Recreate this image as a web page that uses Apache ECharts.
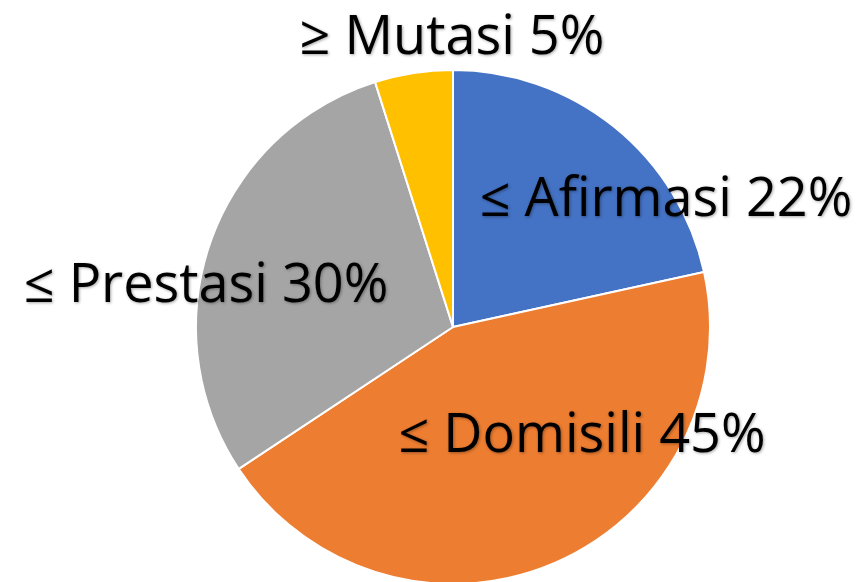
<!DOCTYPE html>
<html>
<head>
<meta charset="utf-8">
<script src="https://cdn.jsdelivr.net/npm/echarts@6/dist/echarts.min.js"></script>
<style>
  html, body { margin: 0; padding: 0; background: #fff; }
  #chart { width: 868px; height: 582px; }
</style>
</head>
<body>
<div id="chart"></div>
<script>
var names = ["Afirmasi", "Domisili", "Prestasi", "Mutasi"];
var signs = ["≤", "≤", "≤", "≥"];
var values = [22, 45, 30, 5];
var colors = ["#4472C4", "#ED7D31", "#A5A5A5", "#FFC000"];
// where each label sits (text centre)
var labelPos = [[666, 201], [582, 437], [206, 287], [452, 39]];

var chartDom = document.getElementById("chart");
var myChart = echarts.init(chartDom);
var option;

option = {
  animation: false,
  series: [
    {
      type: "pie",
      center: [453, 327],
      radius: 257,
      startAngle: 90,
      clockwise: true,
      itemStyle: {
        borderColor: "#fff",
        borderWidth: 2,
      },
      labelLine: { show: false },
      label: {
        show: true,
        position: "inside",
        fontFamily: "Open Sans",
        fontSize: 54,
        color: "#000",
        textShadowColor: "rgba(0,0,0,0.35)",
        textShadowBlur: 3,
        textShadowOffsetX: 1,
        textShadowOffsetY: 1,
        formatter: function (p) {
          return signs[p.dataIndex] + " " + p.name + " " + p.value + "%";
        },
      },
      labelLayout: function (p) {
        return {
          x: labelPos[p.dataIndex][0],
          y: labelPos[p.dataIndex][1],
          align: "center",
          verticalAlign: "middle",
        };
      },
      data: names.map(function (n, i) {
        return { name: n, value: values[i], itemStyle: { color: colors[i] } };
      }),
    },
  ],
};

myChart.setOption(option);
</script>
</body>
</html>
